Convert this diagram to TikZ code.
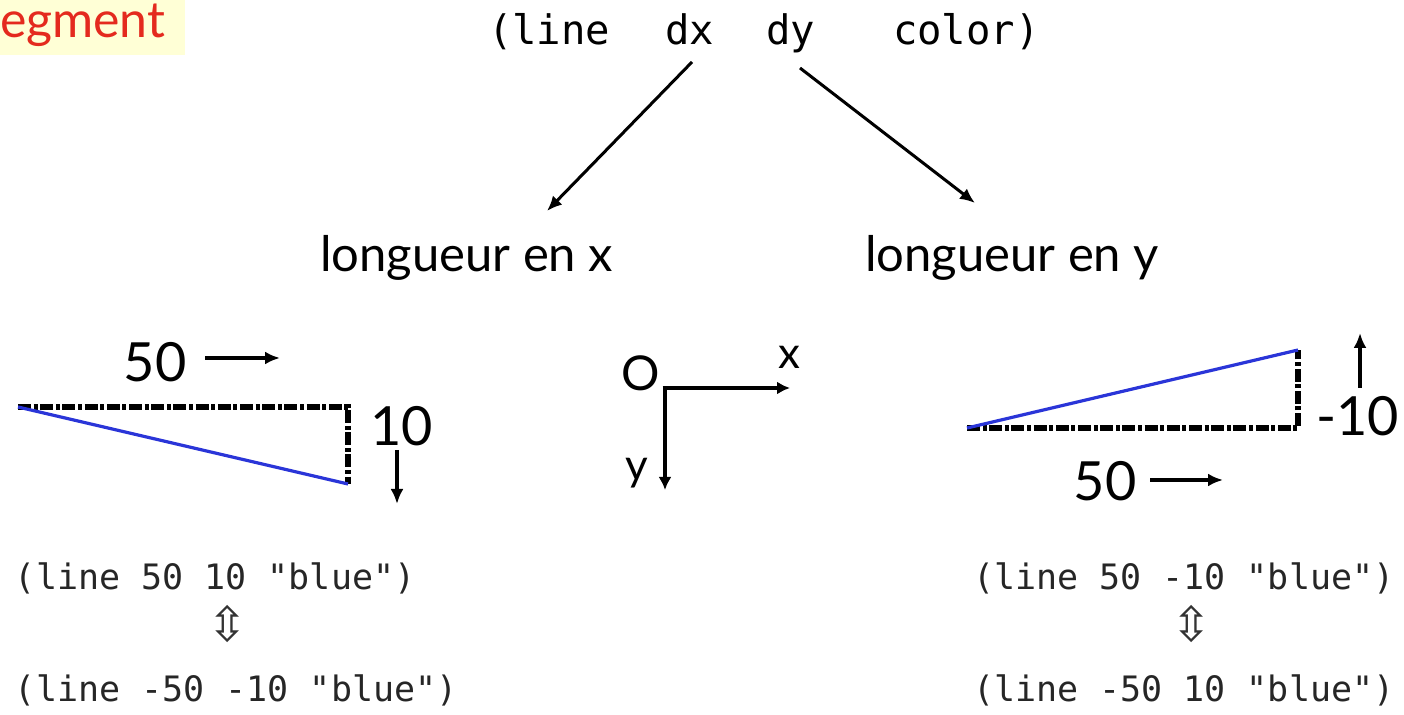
\documentclass[tikz,border=0pt]{standalone}
\usepackage{fontspec}
\setmainfont{Lato}
\newfontfamily\codefont{DejaVu Sans Mono}
\newfontfamily\symfont{DejaVu Sans}
\usetikzlibrary{arrows.meta}
\definecolor{titlered}{HTML}{E42A1E}
\definecolor{titlebg}{HTML}{FFFFD6}
\definecolor{segblue}{HTML}{2A35D8}
\tikzset{
  x=0.5pt, y=-0.5pt,
  plain/.style={inner sep=0pt, outer sep=0pt},
  topcode/.style={plain, anchor=base west, font=\codefont\fontsize{20.3}{22}\selectfont},
  code/.style={plain, anchor=west, font=\codefont\fontsize{17.5}{20}\selectfont, text=black!85},
  label/.style={plain, anchor=base west, font=\fontsize{24.5}{28}\selectfont},
  num/.style={plain, font=\fontsize{27}{30}\selectfont},
  axlab/.style={plain, font=\fontsize{22}{26}\selectfont},
  dirarrow/.style={line width=2pt, -{Latex[length=7.5pt,width=6.5pt]}},
  bigarrow/.style={line width=1.5pt, -{Latex[length=7.5pt,width=6.5pt]}},
  axis/.style={line width=2.3pt, -{Latex[length=6.5pt,width=6.5pt]}},
  dashdot/.style={line width=2.8pt, dash pattern=on 6.5pt off 1.3pt on 2pt off 1.3pt},
  seg/.style={line width=1.6pt, segblue},
}
\begin{document}
\begin{tikzpicture}
\useasboundingbox (0,0) rectangle (1404,715);
% title
\fill[titlebg] (0,0) rectangle (185,55);
\node[plain, anchor=base west, text=titlered, font=\fontsize{25}{28}\selectfont] (title) at (0,38) {egment};
% top code
\node[topcode] (cline) at (488,45) {(line};
\node[topcode] (cdx) at (665,45) {dx};
\node[topcode] (cdy) at (766,45) {dy};
\node[topcode] (ccol) at (893,45) {color)};
\coordinate (dxs) at (692,62);
\coordinate (dys) at (800,68);
\node[label] (lx) at (320,272) {longueur en x};
\node[label] (ly) at (865,272) {longueur en y};
\coordinate (dxe) at (547,211);
\coordinate (dye) at (975,203);
\draw[bigarrow] (dxs) -- (dxe);
\draw[bigarrow] (dys) -- (dye);
% left triangle
\coordinate (la) at (18,407);
\coordinate (lb) at (348,407);
\coordinate (lc) at (348,484);
\draw[dashdot] (la) -- (lb) -- (lc);
\draw[seg] (la) -- (lc);
\node[num] (l50) at (155,362) {50};
\coordinate (l50s) at (205,358);
\coordinate (l50e) at (280,358);
\draw[dirarrow] (l50s) -- (l50e);
\node[num, anchor=west] (l10) at (370,426) {10};
\coordinate (l10s) at (397,450);
\coordinate (l10e) at (397,504);
\draw[dirarrow] (l10s) -- (l10e);
% axes
\coordinate (orig) at (665,388);
\coordinate (xend) at (790,388);
\coordinate (yend) at (665,490);
\draw[axis] ([xshift=-1.15pt]orig) -- (xend);
\draw[axis] (orig) -- (yend);
\node[axlab, font=\fontsize{24}{28}\selectfont] (olab) at (641,373) {O};
\node[axlab] (xlab) at (789,357) {x};
\node[axlab] (ylab) at (637,473) {y};
% right triangle
\coordinate (rd) at (967,428);
\coordinate (re) at (1298,428);
\coordinate (rf) at (1298,350);
\draw[dashdot] (rd) -- (re) -- (rf);
\draw[seg] (rd) -- (rf);
\node[num, anchor=west] (rm10) at (1316,416) {-10};
\coordinate (rus) at (1360,388);
\coordinate (rue) at (1360,333);
\draw[dirarrow] (rus) -- (rue);
\node[num] (r50) at (1105,481) {50};
\coordinate (r50s) at (1150,480);
\coordinate (r50e) at (1223,480);
\draw[dirarrow] (r50s) -- (r50e);
% code lines
\node[code] (lc1) at (15,578) {(line 50 10 "blue")};
\node[plain, font=\symfont\fontsize{24}{26}\selectfont, text=black!80] (leq) at (228,624) {⇳};
\node[code] (lc2) at (15,690) {(line -50 -10 "blue")};
\node[code] (rc1) at (973,578) {(line 50 -10 "blue")};
\node[plain, font=\symfont\fontsize{24}{26}\selectfont, text=black!80] (req) at (1192,624) {⇳};
\node[code] (rc2) at (973,690) {(line -50 10 "blue")};
\end{tikzpicture}
\end{document}
